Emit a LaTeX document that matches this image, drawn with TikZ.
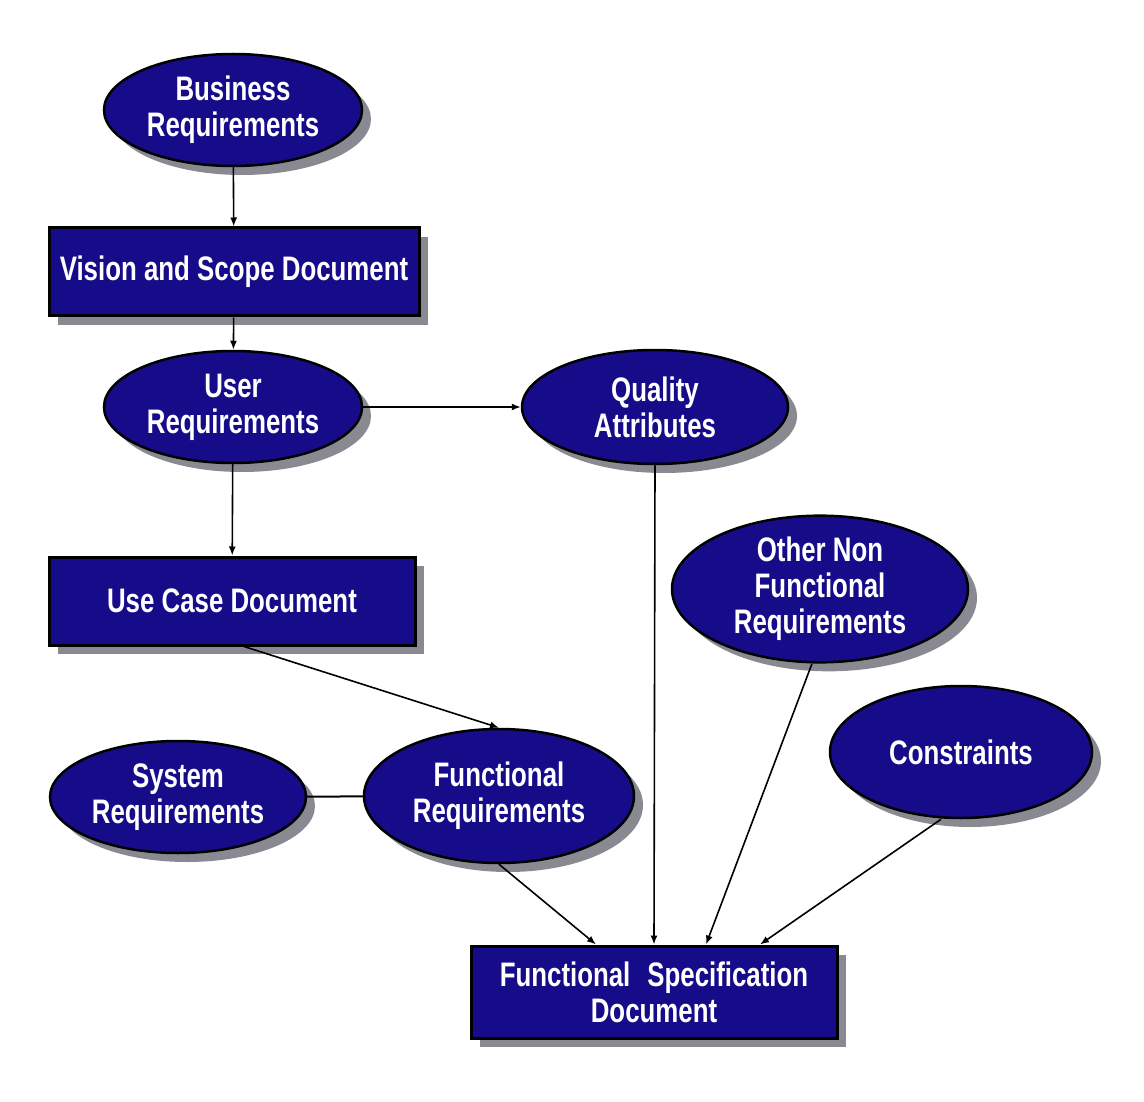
\documentclass[tikz,border=0pt]{standalone}
\usepackage{fontspec}
\newfontfamily\boxfont[FakeStretch=0.76]{Liberation Sans}
\usetikzlibrary{shapes.geometric,arrows.meta,shadows}
\definecolor{navy}{RGB}{22,12,138}
\definecolor{shade}{RGB}{125,125,135}
\begin{document}
\begin{tikzpicture}[x=1pt,y=-1pt,
  label text/.style={text=white,font=\boxfont\bfseries\fontsize{34}{36}\selectfont,align=center},
  oval/.style={ellipse,draw=black,line width=2.5pt,fill=navy,inner sep=0pt,
    drop shadow={shadow xshift=9pt,shadow yshift=-9pt,fill=shade,opacity=0.9},label text},
  docbox/.style={rectangle,draw=black,line width=3pt,fill=navy,inner sep=0pt,
    drop shadow={shadow xshift=9pt,shadow yshift=-9pt,fill=shade,opacity=0.9},label text},
  link/.style={draw=black,line width=1.6pt,-{Latex[length=9pt,width=7pt]}},
  plain/.style={draw=black,line width=2pt}]
\useasboundingbox (0,0) rectangle (1144,1102);
\fill[white] (0,0) rectangle (1144,1102);

% requirement ovals
\node[oval,minimum width=258pt,minimum height=112pt] (biz) at (233,110) {Business\\Requirements};
\node[oval,minimum width=258pt,minimum height=112pt] (user) at (233,407) {User\\Requirements};
\node[oval,minimum width=266pt,minimum height=114pt] (qual) at (655,407) {Quality\\Attributes};
\node[oval,minimum width=296pt,minimum height=120pt] (other) at (820,589) {Other Non\\Functional\\Requirements};
\node[oval,minimum width=262pt,minimum height=132pt] (cons) at (961,752) {Constraints};
\node[oval,minimum width=256pt,minimum height=112pt] (sys) at (178,797) {System\\Requirements};
\node[oval,minimum width=270pt,minimum height=134pt] (func) at (499,796) {Functional\\Requirements};

% documents
\node[docbox,minimum width=370pt,minimum height=88pt] (vision) at (234,272) {Vision and Scope Document};
\node[docbox,minimum width=366pt,minimum height=88pt] (usecase) at (232,601) {Use Case Document};
\node[docbox,minimum width=366pt,minimum height=92pt] (spec) at (654,992) {Functional\enspace Specification\\Document};

% connectors
\draw[link] (biz) -- (vision);
\draw[link] (vision) -- (user);
\draw[link] (user) -- (qual);
\draw[link] (user) -- (usecase);
\draw[link] (usecase.south) ++(12,0) coordinate (ucout) -- (func.north);
\draw[plain] (sys) -- (func);
\draw[link] (func.south) -- ([xshift=-58pt]spec.north);
\draw[link] (qual.south) -- (spec.north);
\draw[link] ([xshift=-8pt]other.south) -- ([xshift=52pt]spec.north);
\draw[link] ([xshift=-20pt]cons.south) -- ([xshift=106pt]spec.north);
\end{tikzpicture}
\end{document}
